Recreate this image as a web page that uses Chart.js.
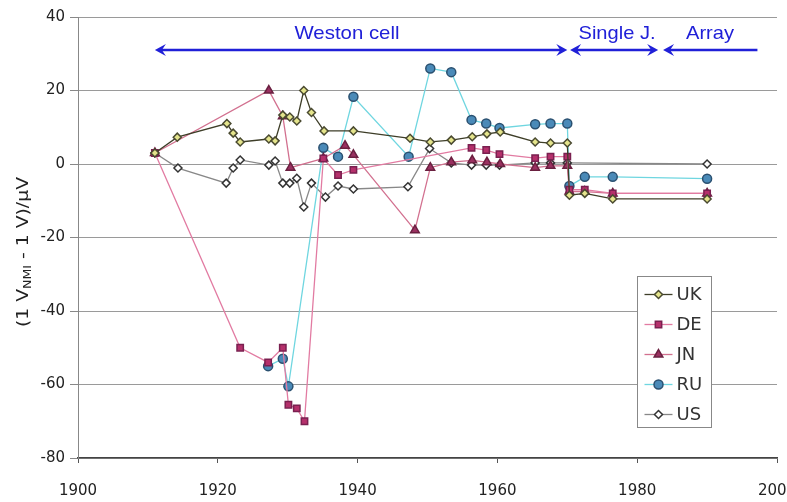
<!DOCTYPE html>
<html>
<head>
<meta charset="utf-8">
<script src="https://cdn.jsdelivr.net/npm/chart.js@4.4.0/dist/chart.umd.min.js"></script>
<style>
  body { margin: 0; background: #fff; }
</style>
</head>
<body>
<canvas id="myChart" width="787" height="502"></canvas>
<script>
// valeurs : annee / ecart en microvolts
const ukYears  = [1911, 1914.2, 1921.3, 1922.2, 1923.2, 1927.3, 1928.2, 1929.3, 1930.3, 1931.3, 1932.3, 1933.4, 1935.2, 1939.4, 1947.5, 1950.4, 1953.4, 1956.4, 1958.5, 1960.4, 1965.4, 1967.6, 1970, 1970.3, 1972.5, 1976.5, 1990];
const ukValues = [3, 7.3, 11, 8.4, 6, 6.8, 6.3, 13.3, 12.8, 11.7, 20, 14, 9, 9, 7, 6, 6.5, 7.4, 8.2, 8.7, 6, 5.7, 5.7, -8.5, -8, -9.5, -9.5];

const deYears  = [1911, 1923.2, 1927.2, 1929.3, 1930.1, 1931.3, 1932.4, 1935.1, 1937.2, 1939.4, 1956.3, 1958.4, 1960.3, 1965.4, 1967.6, 1970, 1970.3, 1972.5, 1976.5, 1990];
const deValues = [3, -50, -54, -50, -65.5, -66.5, -70, 1.5, -3, -1.6, 4.4, 3.8, 2.7, 1.6, 2, 2, -7, -7, -8, -8];

const jnYears  = [1911, 1927.3, 1929.3, 1930.4, 1935.1, 1938.2, 1939.4, 1948.2, 1950.4, 1953.4, 1956.4, 1958.5, 1960.4, 1965.4, 1967.6, 1970, 1970.3, 1972.5, 1976.5, 1990];
const jnValues = [3, 20, 13, -1, 1.5, 5, 2.5, -18, -1, 0.5, 1, 0.5, 0, -1, -0.5, -0.5, -7.5, -7.5, -8, -8];

const ruYears  = [1927.2, 1929.3, 1930.1, 1935.1, 1937.2, 1939.4, 1947.3, 1950.4, 1953.4, 1956.3, 1958.4, 1960.3, 1965.4, 1967.6, 1970, 1970.3, 1972.5, 1976.5, 1990];
const ruValues = [-55, -53, -60.5, 4.4, 2, 18.3, 2, 26, 25, 12, 11, 9.8, 10.8, 11, 11, -6, -3.5, -3.5, -4];

const usYears  = [1911, 1914.3, 1921.2, 1922.2, 1923.2, 1927.3, 1928.2, 1929.3, 1930.3, 1931.3, 1932.3, 1933.4, 1935.4, 1937.2, 1939.4, 1947.2, 1950.3, 1953.4, 1956.3, 1958.4, 1960.3, 1965.4, 1967.6, 1970, 1990];
const usValues = [3, -1.1, -5.2, -1.1, 1.1, -0.3, 0.8, -5.2, -5.2, -3.9, -11.7, -5.2, -9, -6, -6.8, -6.2, 4.2, 0.3, -0.3, -0.3, -0.3, 0.3, 0.3, 0.3, 0];

const seriesNames = ['UK', 'DE', 'JN', 'RU', 'US'];

const xTicks = [1900, 1920, 1940, 1960, 1980, 2000];
const yTicks = [-80, -60, -40, -20, 0, 20, 40];

// periodes (fleches du haut)
const periodLabels = ['Weston cell', 'Single J.', 'Array'];
const periodStart  = [1911, 1970.4, 1983.7];
const periodEnd    = [1970, 1983.0, 1997.2];
const periodHeadRight = [true, true, false];

function toPoints(xs, ys) {
    return xs.map((x, i) => ({ x: x, y: ys[i] }));
}

const styles = [
    { line: '#3e3e28', fill: '#e4e48c', border: '#4a4a30', shape: 'rectRot', r: 4 },
    { line: '#e27ba2', fill: '#b5306b', border: '#7a2050', shape: 'rect', r: 4.5 },
    { line: '#d2708f', fill: '#9a3060', border: '#6a2040', shape: 'triangle', r: 5 },
    { line: '#6fd6e0', fill: '#4a8ab8', border: '#2a5070', shape: 'circle', r: 4.5 },
    { line: '#888888', fill: '#ffffff', border: '#333333', shape: 'rectRot', r: 4 }
];

const allData = [
    toPoints(ukYears, ukValues),
    toPoints(deYears, deValues),
    toPoints(jnYears, jnValues),
    toPoints(ruYears, ruValues),
    toPoints(usYears, usValues)
];

const datasets = seriesNames.map((name, i) => ({
    label: name,
    data: allData[i],
    showLine: true,
    borderColor: styles[i].line,
    borderWidth: 1.3,
    pointStyle: styles[i].shape,
    pointRadius: styles[i].r,
    pointBackgroundColor: styles[i].fill,
    pointBorderColor: styles[i].border,
    pointBorderWidth: 1.5,
    tension: 0
}));

// fond blanc
const bgPlugin = {
    id: 'fond',
    beforeDraw(chart) {
        const ctx = chart.ctx;
        ctx.save();
        ctx.fillStyle = '#fff';
        ctx.fillRect(0, 0, chart.width, chart.height);
        ctx.restore();
    }
};

// texte etire pour tenir dans une largeur donnee
function fitText(ctx, text, cx, cy, target) {
    const w = ctx.measureText(text).width;
    ctx.save();
    ctx.translate(cx, cy);
    ctx.scale(target / w, 1);
    ctx.fillText(text, 0, 0);
    ctx.restore();
}

function arrowHead(ctx, tx, ty, dir) {
    ctx.beginPath();
    ctx.moveTo(tx, ty);
    ctx.lineTo(tx - dir * 11, ty - 6);
    ctx.lineTo(tx - dir * 7, ty);
    ctx.lineTo(tx - dir * 11, ty + 6);
    ctx.closePath();
    ctx.fill();
}

const periodPlugin = {
    id: 'periodes',
    afterDatasetsDraw(chart) {
        const { ctx, scales: { x, y } } = chart;
        const py = y.getPixelForValue(31);
        const ty = y.getPixelForValue(35.5);
        const widths = [105, 77, 48];
        ctx.save();
        ctx.strokeStyle = '#2020d8';
        ctx.fillStyle = '#2020d8';
        ctx.lineWidth = 2.5;
        periodLabels.forEach((label, i) => {
            const x1 = x.getPixelForValue(periodStart[i]);
            const x2 = x.getPixelForValue(periodEnd[i]);
            ctx.beginPath();
            ctx.moveTo(x1 + 6, py);
            ctx.lineTo(periodHeadRight[i] ? x2 - 6 : x2, py);
            ctx.stroke();
            arrowHead(ctx, x1, py, -1);
            if (periodHeadRight[i]) arrowHead(ctx, x2, py, 1);
        });
        ctx.font = '19px "Liberation Sans", Arial, sans-serif';
        ctx.textAlign = 'center';
        ctx.textBaseline = 'middle';
        const centers = [347, 617, 710];
        periodLabels.forEach((label, i) => {
            fitText(ctx, label, centers[i], ty, widths[i]);
        });
        ctx.restore();
    }
};

// legende dans la zone du graphique
const legendPlugin = {
    id: 'legendeBoite',
    afterDraw(chart) {
        const { ctx, scales: { x, y } } = chart;
        const left = Math.round(x.getPixelForValue(1980)) + 0.5;
        const top = Math.round(y.getPixelForValue(-30.5)) + 0.5;
        const w = 74, h = 151;
        ctx.save();
        ctx.fillStyle = '#fff';
        ctx.fillRect(left, top, w, h);
        ctx.strokeStyle = '#888';
        ctx.lineWidth = 1;
        ctx.strokeRect(left, top, w, h);
        ctx.font = '18px "DejaVu Sans", sans-serif';
        ctx.textBaseline = 'middle';
        ctx.textAlign = 'left';
        chart.data.datasets.forEach((ds, i) => {
            const ey = top + 18 + i * 30;
            ctx.strokeStyle = ds.borderColor;
            ctx.lineWidth = 1.3;
            ctx.beginPath();
            ctx.moveTo(left + 7, ey);
            ctx.lineTo(left + 35, ey);
            ctx.stroke();
            ctx.fillStyle = ds.pointBackgroundColor;
            ctx.strokeStyle = ds.pointBorderColor;
            ctx.lineWidth = 1.5;
            Chart.helpers.drawPoint(ctx, {
                pointStyle: ds.pointStyle,
                radius: ds.pointRadius,
                borderWidth: 1.5,
                rotation: 0
            }, left + 21, ey);
            ctx.fillStyle = '#333';
            ctx.fillText(ds.label, left + 39, ey + 1);
        });
        ctx.restore();
    }
};

// titre de l'axe y avec indice NMI
const yTitlePlugin = {
    id: 'titreY',
    afterDraw(chart) {
        const ctx = chart.ctx;
        const parts = [
            { t: '(1 V', sub: false },
            { t: 'NMI', sub: true },
            { t: ' - 1 V)/\u00b5V', sub: false }
        ];
        const big = '15px "DejaVu Sans", sans-serif';
        const small = '10px "DejaVu Sans", sans-serif';
        let total = 0;
        parts.forEach(p => {
            ctx.font = p.sub ? small : big;
            p.w = ctx.measureText(p.t).width;
            total += p.w;
        });
        const target = 150;
        ctx.save();
        ctx.translate(24, 252);
        ctx.rotate(-Math.PI / 2);
        ctx.scale(target / total, 1);
        ctx.fillStyle = '#222';
        ctx.textBaseline = 'middle';
        let cx = -total / 2;
        parts.forEach(p => {
            ctx.font = p.sub ? small : big;
            ctx.fillText(p.t, cx, p.sub ? 4 : 0);
            cx += p.w;
        });
        ctx.restore();
    }
};

const ctx = document.getElementById('myChart').getContext('2d');
const chartInstance = new Chart(ctx, {
    type: 'scatter',
    data: { datasets: datasets },
    options: {
        responsive: false,
        animation: false,
        layout: {
            autoPadding: false,
            padding: { top: 17, right: 10, left: 0, bottom: 0 }
        },
        plugins: {
            legend: { display: false },
            tooltip: { enabled: false }
        },
        scales: {
            x: {
                type: 'linear',
                min: 1900,
                max: 2000,
                afterFit: s => { s.height = 44; s.paddingLeft = 0; s.paddingRight = 0; },
                afterBuildTicks: s => { s.ticks = xTicks.map(v => ({ value: v })); },
                ticks: {
                    callback: v => String(v),
                    color: '#222',
                    font: { family: 'DejaVu Sans', size: 15 },
                    padding: 19,
                    maxRotation: 0
                },
                grid: {
                    drawOnChartArea: false,
                    drawTicks: true,
                    tickLength: 5,
                    color: '#555'
                },
                border: { color: '#444', width: 1.5 }
            },
            y: {
                type: 'linear',
                min: -80,
                max: 40,
                afterFit: s => { s.width = 78; s.paddingTop = 0; s.paddingBottom = 0; },
                afterBuildTicks: s => { s.ticks = yTicks.map(v => ({ value: v })); },
                ticks: {
                    callback: v => String(v),
                    color: '#222',
                    font: { family: 'DejaVu Sans', size: 15 },
                    padding: 5
                },
                grid: {
                    color: '#9a9a9a',
                    lineWidth: 1,
                    tickLength: 8,
                    tickColor: '#888'
                },
                border: { color: '#888', width: 1 }
            }
        }
    },
    plugins: [bgPlugin, periodPlugin, legendPlugin, yTitlePlugin]
});
</script>
</body>
</html>
